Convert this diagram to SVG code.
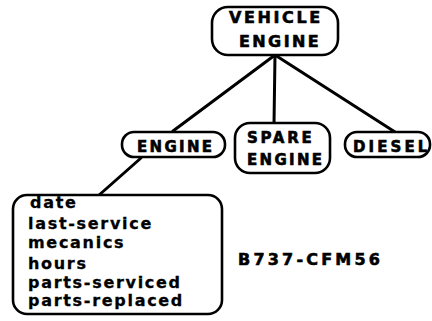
<svg xmlns="http://www.w3.org/2000/svg" width="432" height="321" viewBox="0 0 432 321">
<style>
.box{fill:#fff;stroke:#000;stroke-width:2.6}
.lbl{font-family:"DejaVu Sans","Liberation Sans",Arial,sans-serif;font-weight:bold;font-size:15px;letter-spacing:2.4px;fill:#000;stroke:#000;stroke-width:0.6}
.att{font-family:"DejaVu Sans","Liberation Sans",Arial,sans-serif;font-weight:bold;font-size:16px;letter-spacing:1.7px;fill:#000;stroke:#000;stroke-width:0.3}
.edge{stroke:#000;stroke-width:3;fill:none;stroke-linecap:round}
</style>
<rect width="432" height="321" fill="#fff"/>
<g id="connectors">
<line class="edge" x1="275" y1="55" x2="173" y2="131"/>
<line class="edge" x1="275" y1="55" x2="274" y2="124"/>
<line class="edge" x1="275" y1="55" x2="395" y2="132"/>
<line class="edge" x1="141" y1="158" x2="98" y2="196"/>
</g>
<g id="vehicle-engine">
<rect class="box" x="212" y="7" width="126" height="48" rx="16"/>
<text class="lbl" x="229" y="23" style="font-size:16px;letter-spacing:2.6px">VEHICLE</text>
<text class="lbl" x="239" y="47" style="font-size:16px;letter-spacing:2.4px">ENGINE</text>
</g>
<g id="engine">
<rect class="box" x="122" y="132" width="103" height="25" rx="12"/>
<text class="lbl" x="137" y="152" style="letter-spacing:2.3px">ENGINE</text>
</g>
<g id="spare-engine">
<rect class="box" x="235" y="123" width="95" height="50" rx="15"/>
<text class="lbl" x="247" y="143" style="letter-spacing:2.7px">SPARE</text>
<text class="lbl" x="247" y="165" style="letter-spacing:2.3px">ENGINE</text>
</g>
<g id="diesel">
<rect class="box" x="345" y="132" width="85" height="25" rx="12"/>
<text class="lbl" x="353" y="152" style="letter-spacing:3.1px">DIESEL</text>
</g>
<g id="engine-details">
<rect class="box" x="13" y="195" width="209" height="119" rx="14"/>
<text class="att" x="30" y="208">date</text>
<text class="att" x="28" y="229">last-service</text>
<text class="att" x="28" y="248">mecanics</text>
<text class="att" x="28" y="269">hours</text>
<text class="att" x="28" y="288">parts-serviced</text>
<text class="att" x="28" y="306">parts-replaced</text>
</g>
<g id="b737-label">
<text class="lbl" x="238" y="265" style="font-size:16px;letter-spacing:3.2px">B737-CFM56</text>
</g>
</svg>
